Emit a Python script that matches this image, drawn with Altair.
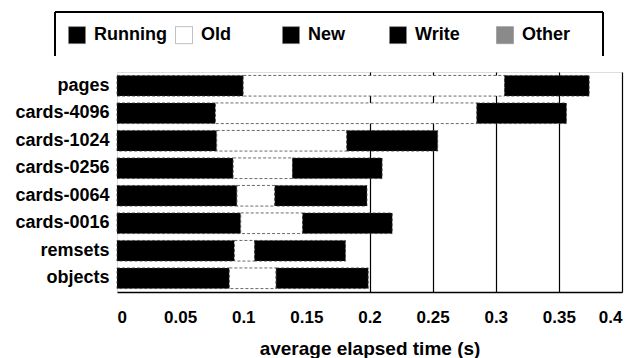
import altair as alt
import pandas as pd

categories = ["pages", "cards-4096", "cards-1024", "cards-0256",
              "cards-0064", "cards-0016", "remsets", "objects"]
components = ["Running", "Old", "New", "Write", "Other"]
colors = ["#000000", "#ffffff", "#000000", "#000000", "#8a8a8a"]

running = [0.100, 0.078, 0.079, 0.092, 0.095, 0.098, 0.093, 0.089]
old = [0.207, 0.207, 0.103, 0.047, 0.030, 0.049, 0.016, 0.037]
new = [0.067, 0.071, 0.072, 0.071, 0.073, 0.071, 0.072, 0.073]
write = [0.0, 0.0, 0.0, 0.0, 0.0, 0.0, 0.0, 0.0]
other = [0.0, 0.0, 0.0, 0.0, 0.0, 0.0, 0.0, 0.0]

x_ticks = [0, 0.05, 0.1, 0.15, 0.2, 0.25, 0.3, 0.35, 0.4]

series = {"Running": running, "Old": old, "New": new, "Write": write, "Other": other}
rows = []
for k, comp in enumerate(components):
    for cat, v in zip(categories, series[comp]):
        rows.append({"category": cat, "component": comp, "value": v, "order": k})
df = pd.DataFrame(rows)

FONT = "Liberation Sans"

bars = alt.Chart(df).transform_filter("datum.value > 0").mark_bar(
    stroke="#444444", strokeWidth=0.8, strokeDash=[3, 2]
).encode(
    x=alt.X("value:Q", stack="zero",
            scale=alt.Scale(domain=[0, 0.4], nice=False, zero=True),
            axis=alt.Axis(values=x_ticks, format="~g", grid=True,
                          gridColor={"condition": {"test": "datum.value < 0.19", "value": "transparent"},
                                     "value": "#000000"},
                          gridWidth=1.2, domainColor="#000000", domainWidth=1.5,
                          ticks=False, tickSize=0, labelPadding=17,
                          labelFontSize=17, labelFontWeight="bold", labelColor="#000000",
                          titleFontSize=19, titleFontWeight="bold", titleColor="#000000",
                          titlePadding=14),
            title="average elapsed time (s)"),
    y=alt.Y("category:N", sort=categories,
            scale=alt.Scale(paddingInner=0.25, paddingOuter=0.125),
            axis=alt.Axis(title=None, domain=False, ticks=False, grid=False,
                          labelPadding=8, labelFontSize=18, labelFontWeight="bold",
                          labelColor="#000000")),
    color=alt.Color("component:N", sort=components,
                    scale=alt.Scale(domain=components, range=colors),
                    legend=alt.Legend(title=None, orient="none", direction="horizontal",
                                      legendX=-49, legendY=-46, padding=0,
                                      symbolType="square", symbolSize=289,
                                      symbolStrokeColor="#888888", symbolStrokeWidth=0.6,
                                      symbolDash=[1, 0],
                                      labelFontSize=18, labelFontWeight="bold",
                                      labelColor="#000000", labelOffset=8,
                                      gridAlign="all", columnPadding=7,
                                      labelLimit=200)),
    order=alt.Order("order:Q"),
)

frame_top = alt.Chart(df).mark_rule(color="#000000", strokeWidth=1).encode(
    x=alt.value(-62), x2=alt.value(486), y=alt.value(-60))
frame_left = alt.Chart(df).mark_rule(color="#000000", strokeWidth=1).encode(
    x=alt.value(-62), y=alt.value(-60), y2=alt.value(-16))
frame_right = alt.Chart(df).mark_rule(color="#000000", strokeWidth=1).encode(
    x=alt.value(486), y=alt.value(-60), y2=alt.value(-16))

chart = alt.layer(bars, frame_top, frame_left, frame_right).properties(
    width=505, height=220,
    autosize=alt.AutoSizeParams(type="none"),
    padding={"left": 117, "top": 72, "right": 12, "bottom": 66},
    background="#ffffff",
).configure_view(stroke=None).configure(font=FONT)

chart.save("out.html", embed_options={"renderer": "svg", "actions": False})
